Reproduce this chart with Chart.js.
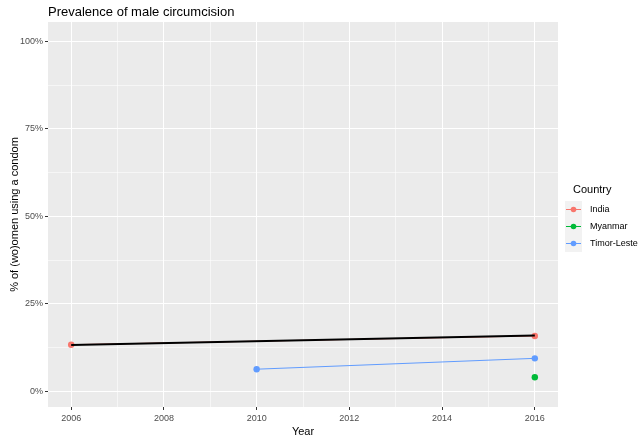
<!DOCTYPE html>
<html>
<head>
<meta charset="utf-8">
<script src="https://cdn.jsdelivr.net/npm/chart.js@4"></script>
<style>
  html, body { margin: 0; padding: 0; background: #fff; }
  #wrap { width: 641px; height: 439px; }
</style>
</head>
<body>
<div id="wrap"><canvas id="chart" width="641" height="439"></canvas></div>
<script>
// data
const yearTicks = [2006, 2007, 2008, 2009, 2010, 2011, 2012, 2013, 2014, 2015, 2016];
const pctTicks = [0, 12.5, 25, 37.5, 50, 62.5, 75, 87.5, 100];

const indiaYears = [2006, 2016];
const indiaValues = [13.3, 15.8];
const myanmarYears = [2016];
const myanmarValues = [4.0];
const timorYears = [2010, 2016];
const timorValues = [6.3, 9.4];
const trendYears = [2006, 2016];
const trendValues = [13.2, 15.9];

const countries = ['India', 'Myanmar', 'Timor-Leste'];
const colours = ['#F8766D', '#00BA38', '#619CFF'];

const toPoints = (xs, ys) => xs.map((x, i) => ({ x: x, y: ys[i] }));

const panelBg = {
    id: 'panelBg',
    beforeDraw(chart) {
        const a = chart.chartArea, ctx = chart.ctx;
        ctx.save();
        ctx.fillStyle = '#EBEBEB';
        ctx.fillRect(a.left, a.top, a.right - a.left, a.bottom - a.top);
        ctx.restore();
    }
};

// title + ggplot style legend
const extras = {
    id: 'extras',
    afterDraw(chart) {
        const ctx = chart.ctx, a = chart.chartArea;
        ctx.save();
        ctx.fillStyle = '#000';
        ctx.font = '13px "Liberation Sans", Arial, sans-serif';
        ctx.textBaseline = 'middle';
        ctx.fillText('Prevalence of male circumcision', a.left, 12);

        ctx.font = '11px "Liberation Sans", Arial, sans-serif';
        ctx.fillText('Country', 573, 190);

        countries.forEach((name, i) => {
            const cy = 209 + i * 17;
            ctx.fillStyle = '#F2F2F2';
            ctx.fillRect(565, cy - 8, 17, 17);
            ctx.strokeStyle = colours[i];
            ctx.lineWidth = 1;
            ctx.beginPath();
            ctx.moveTo(566, cy + 0.5);
            ctx.lineTo(581, cy + 0.5);
            ctx.stroke();
            ctx.fillStyle = colours[i];
            ctx.beginPath();
            ctx.arc(573.5, cy + 0.5, 2.8, 0, Math.PI * 2);
            ctx.fill();
            ctx.fillStyle = '#000';
            ctx.font = '9px "Liberation Sans", Arial, sans-serif';
            ctx.fillText(name, 590, cy + 1);
        });
        ctx.restore();
    }
};

const isMajorYear = v => v % 2 === 0;
const isMajorPct = v => v % 25 === 0;

new Chart(document.getElementById('chart'), {
    type: 'scatter',
    data: {
        datasets: [
            {
                label: 'trend',
                data: toPoints(trendYears, trendValues),
                showLine: true,
                borderColor: '#000',
                borderWidth: 2,
                pointRadius: 0,
                order: 2
            },
            {
                label: countries[0],
                data: toPoints(indiaYears, indiaValues),
                showLine: true,
                borderColor: colours[0],
                backgroundColor: colours[0],
                borderWidth: 1,
                pointRadius: 3.2,
                pointBorderWidth: 0,
                order: 3
            },
            {
                label: countries[1],
                data: toPoints(myanmarYears, myanmarValues),
                borderColor: colours[1],
                backgroundColor: colours[1],
                pointRadius: 3.2,
                pointBorderWidth: 0,
                order: 1
            },
            {
                label: countries[2],
                data: toPoints(timorYears, timorValues),
                showLine: true,
                borderColor: colours[2],
                backgroundColor: colours[2],
                borderWidth: 1,
                pointRadius: 3.2,
                pointBorderWidth: 0,
                order: 1
            }
        ]
    },
    options: {
        responsive: false,
        animation: false,
        layout: { padding: { top: 22, right: 83, left: 8, bottom: 0 } },
        plugins: {
            legend: { display: false },
            tooltip: { enabled: false }
        },
        scales: {
            x: {
                type: 'linear',
                min: 2005.5,
                max: 2016.5,
                afterBuildTicks: s => { s.ticks = yearTicks.map(v => ({ value: v })); },
                afterFit: s => { s.height = 32; },
                border: { display: false },
                grid: {
                    color: ctx => isMajorYear(ctx.tick.value) ? '#FFFFFF' : 'rgba(255,255,255,0.55)',
                    lineWidth: 1,
                    tickLength: 3,
                    tickColor: ctx => isMajorYear(ctx.tick.value) ? '#333333' : 'rgba(0,0,0,0)'
                },
                ticks: {
                    autoSkip: false,
                    maxRotation: 0,
                    padding: 3,
                    color: '#4D4D4D',
                    font: { size: 9, family: '"Liberation Sans", Arial, sans-serif' },
                    callback: v => isMajorYear(v) ? String(v) : ''
                },
                title: {
                    display: true,
                    text: 'Year',
                    color: '#000',
                    padding: { top: 1, bottom: 0 },
                    font: { size: 11, family: '"Liberation Sans", Arial, sans-serif' }
                }
            },
            y: {
                min: -4.5,
                max: 105.5,
                afterBuildTicks: s => { s.ticks = pctTicks.map(v => ({ value: v })); },
                afterFit: s => { s.width = 40; },
                border: { display: false },
                grid: {
                    color: ctx => isMajorPct(ctx.tick.value) ? '#FFFFFF' : 'rgba(255,255,255,0.55)',
                    lineWidth: 1,
                    tickLength: 3,
                    tickColor: ctx => isMajorPct(ctx.tick.value) ? '#333333' : 'rgba(0,0,0,0)'
                },
                ticks: {
                    autoSkip: false,
                    padding: 2,
                    color: '#4D4D4D',
                    font: { size: 9, family: '"Liberation Sans", Arial, sans-serif' },
                    callback: v => isMajorPct(v) ? v + '%' : ''
                },
                title: {
                    display: true,
                    text: '% of (wo)omen using a condom',
                    color: '#000',
                    padding: { top: 0, bottom: 2 },
                    font: { size: 11, family: '"Liberation Sans", Arial, sans-serif' }
                }
            }
        }
    },
    plugins: [panelBg, extras]
});
</script>
</body>
</html>
